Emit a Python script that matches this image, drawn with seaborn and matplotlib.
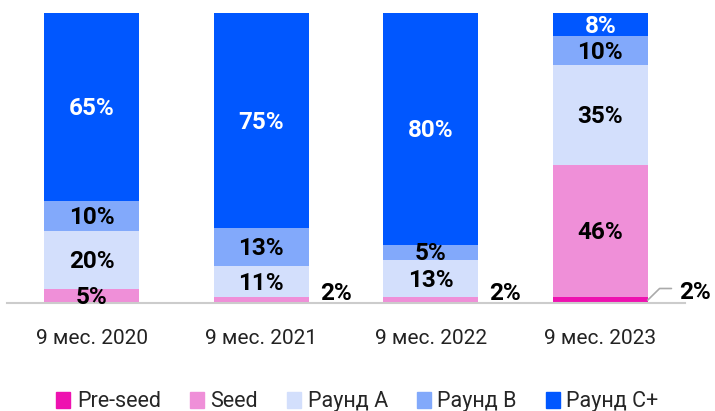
import numpy as np
import pandas as pd
import seaborn as sns
import matplotlib.pyplot as plt
from matplotlib.patches import Patch

# Venture deal structure by stage, 9 months of each year (% of total)
periods = ['9 мес. 2020', '9 мес. 2021', '9 мес. 2022', '9 мес. 2023']
stages = ['Pre-seed', 'Seed', 'Раунд A', 'Раунд B', 'Раунд C+']
pre_seed = [0, 0, 0, 2]
seed = [5, 2, 2, 46]
round_a = [20, 11, 13, 35]
round_b = [10, 13, 5, 10]
round_c = [65, 75, 80, 8]
colors = ['#EE12B0', '#EF8FD8', '#D3DFFC', '#82A9FB', '#0057FF']

df = pd.DataFrame({'period': periods, 'Pre-seed': pre_seed, 'Seed': seed,
                   'Раунд A': round_a, 'Раунд B': round_b, 'Раунд C+': round_c})
vals = df[stages].astype(float)
shares = vals.div(vals.sum(axis=1), axis=0) * 100  # bars fill to 100%
cum = shares.cumsum(axis=1)

sns.set_theme(style='white')
plt.rcParams['font.family'] = ['Roboto', 'DejaVu Sans']

fig = plt.figure(figsize=(7.15, 4.11), dpi=100)
ax = fig.add_axes([7 / 715, 108 / 411, 678 / 715, 290 / 411])

# stacked bars: draw cumulative totals from top layer down
for stage, col in reversed(list(zip(stages, colors))):
    sns.barplot(x=df['period'], y=cum[stage], color=col, width=0.56,
                saturation=1, ax=ax, linewidth=0)

for i in range(len(periods)):
    for j, stage in enumerate(stages):
        v = vals.iloc[i][stage]
        if v == 0:
            continue
        top = cum.iloc[i][stage]
        h = shares.iloc[i][stage]
        txt = f'{int(v)}%'
        if h >= 4:
            ax.text(i, top - h / 2 - 0.6, txt, ha='center', va='center',
                    fontsize=17.5, fontweight='bold',
                    color='white' if stage == 'Раунд C+' else 'black')
        elif stage == 'Pre-seed':
            ax.plot([i + 0.28, i + 0.35, i + 0.42], [h / 2, 5, 5],
                    color='#AAAAAA', lw=1.2, clip_on=False)
            ax.text(i + 0.557, 3.6, txt, ha='center', va='center',
                    fontsize=17.5, fontweight='bold', color='black')
        else:
            ax.text(i + 0.44, 3.2, txt, ha='center', va='center',
                    fontsize=17.5, fontweight='bold', color='black')

ax.set_xlim(-0.5, 3.5)
ax.set_ylim(0, 100)
ax.set_xlabel('')
ax.set_ylabel('')
ax.set_yticks([])
ax.tick_params(axis='x', length=0, pad=19, labelsize=15, labelcolor='#222222')
for s in ['top', 'left', 'right']:
    ax.spines[s].set_visible(False)
ax.spines['bottom'].set_color('#CCCCCC')
ax.spines['bottom'].set_linewidth(1.5)

handles = [Patch(color=c, label=s) for s, c in zip(stages, colors)]
fig.legend(handles=handles, loc='lower center', bbox_to_anchor=(0.5, -0.05),
           ncol=5, frameon=False, fontsize=15.5, handlelength=0.65,
           handleheight=0.75, handletextpad=0.3, columnspacing=1.35)

fig.savefig('out.png', dpi=100)
